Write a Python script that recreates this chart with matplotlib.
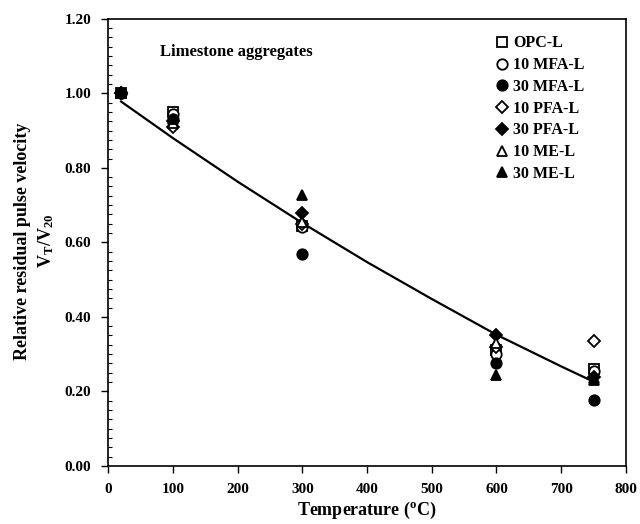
import numpy as np
import matplotlib
matplotlib.use("Agg")
import matplotlib.pyplot as plt
from matplotlib.ticker import MultipleLocator, FormatStrFormatter

plt.rcParams['font.family'] = 'Liberation Serif'
plt.rcParams['font.weight'] = 'bold'
plt.rcParams['mathtext.fontset'] = 'custom'
plt.rcParams['mathtext.rm'] = 'Liberation Serif:bold'
plt.rcParams['mathtext.it'] = 'Liberation Serif:bold'
plt.rcParams['mathtext.bf'] = 'Liberation Serif:bold'

# data
temps = [20, 100, 300, 600, 750]
opc_l = [1.00, 0.950, 0.645, 0.310, 0.260]
mfa10_l = [1.00, 0.945, 0.640, 0.300, 0.255]
mfa30_l = [1.00, 0.930, 0.568, 0.276, 0.177]
pfa10_l = [1.00, 0.910, 0.650, 0.320, 0.334]
pfa30_l = [1.00, 0.925, 0.678, 0.350, 0.238]
me10_l = [1.00, 0.920, 0.655, 0.330, 0.235]
me30_l = [1.00, 0.930, 0.727, 0.244, 0.231]

# trend curve
curve_t = [20, 100, 200, 300, 400, 500, 600, 700, 750]
curve_v = [0.978, 0.880, 0.763, 0.652, 0.547, 0.448, 0.352, 0.267, 0.226]

series = [
    ("OPC-L", opc_l, 's', 'white'),
    ("10 MFA-L", mfa10_l, 'o', 'white'),
    ("30 MFA-L", mfa30_l, 'o', 'black'),
    ("10 PFA-L", pfa10_l, 'D', 'white'),
    ("30 PFA-L", pfa30_l, 'D', 'black'),
    ("10 ME-L", me10_l, '^', 'white'),
    ("30 ME-L", me30_l, '^', 'black'),
]

fig = plt.figure(figsize=(6.4, 5.24), dpi=100)
ax = fig.add_axes([0.169, 0.111, 0.809, 0.853])

ax.plot(curve_t, curve_v, color='black', lw=1.6, zorder=2)

handles = []
for name, vals, mk, fc in series:
    ms = 6 if mk == 'D' else 7.5
    h, = ax.plot(temps, vals, linestyle='none', marker=mk, ms=ms,
                 mfc=fc, mec='black', mew=1.3, label=name, zorder=3)
    handles.append(h)

ax.set_xlim(0, 800)
ax.set_ylim(0, 1.2)
ax.xaxis.set_major_locator(MultipleLocator(100))
ax.yaxis.set_major_locator(MultipleLocator(0.2))
ax.yaxis.set_minor_locator(MultipleLocator(0.025))
ax.yaxis.set_major_formatter(FormatStrFormatter('%.2f'))
ax.tick_params(axis='both', which='major', direction='out', length=5, width=1,
               labelsize=11, pad=7)
ax.tick_params(axis='y', which='minor', direction='in', length=3, width=0.8)
for lab in ax.get_xticklabels() + ax.get_yticklabels():
    lab.set_fontweight('bold')
for sp in ax.spines.values():
    sp.set_linewidth(1.2)

ax.set_xlabel(r'Temperature ($^{\mathrm{o}}$C)', fontsize=13, fontweight='bold', labelpad=3)
fig.text(0.035, 0.54, 'Relative residual pulse velocity', rotation=90,
         ha='center', va='center', fontsize=13, fontweight='bold')
fig.text(0.072, 0.54, r'V$_{\mathrm{T}}$/V$_{\mathrm{20}}$', rotation=90,
         ha='center', va='center', fontsize=13, fontweight='bold')

ax.text(0.1, 0.926, 'Limestone aggregates', transform=ax.transAxes,
        fontsize=12, fontweight='bold', va='center')

leg = ax.legend(handles=handles, loc='upper left', bbox_to_anchor=(0.751, 0.963),
                frameon=False, handlelength=0.6, handletextpad=0.4,
                labelspacing=0.36, borderaxespad=0, borderpad=0, numpoints=1,
                prop={'family': 'Liberation Serif', 'weight': 'bold', 'size': 11.5})

fig.savefig('out.png', dpi=100)
